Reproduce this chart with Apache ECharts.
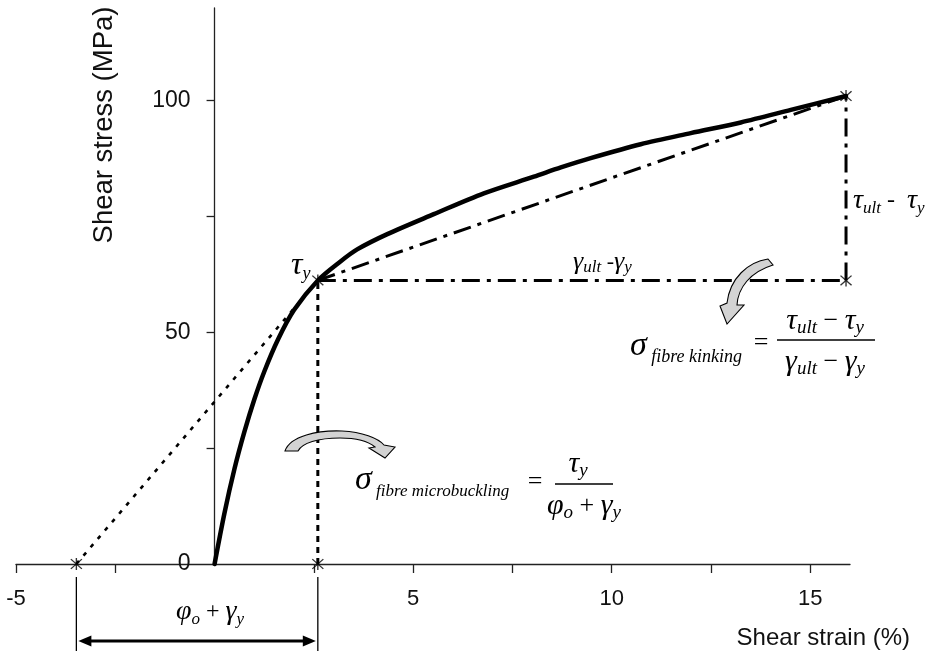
<!DOCTYPE html>
<html>
<head>
<meta charset="utf-8">
<script src="https://cdn.jsdelivr.net/npm/echarts@6/dist/echarts.min.js"></script>
<style>
  html, body { margin: 0; padding: 0; background: #fff; }
  #chart { width: 930px; height: 651px; }
</style>
</head>
<body>
<div id="chart"></div>
<script>
// measured shear stress-strain curve
const strain = [0, 0.25, 0.5, 0.75, 1.0, 1.25, 1.6, 2.0, 2.6, 3.17, 3.59, 4.35, 5.52, 6.78, 8.04, 8.72, 9.47, 10.73, 11.99, 13.25, 14.51, 15.9];
const stress = [0, 11, 20.5, 28.5, 35.5, 41.5, 48.5, 54.8, 61.2, 65.3, 67.9, 71.2, 75.5, 80.0, 83.6, 85.6, 87.6, 90.6, 93.0, 95.3, 98.0, 101.0];

// construction points
const yieldStrain = 2.6;
const yieldStress = 61.2;
const ultStrain = 15.9;
const ultStress = 101.0;
const offsetStrain = -3.48; // phi_o intercept on the strain axis

const xMin = -5;
const xMax = 16;
const xTicks = [-5, -2.5, 2.5, 5, 7.5, 10, 12.5, 15];
const xLabels = [-5, 5, 10, 15];
const yTicks = [25, 50, 75, 100];
const yLabels = [0, 50, 100];

const SERIF = '"Liberation Serif", "DejaVu Serif", serif';
const SANS = '"Liberation Sans", Arial, sans-serif';

const GRID = { left: 16, right: 80, top: 8, bottom: 87 };
const WIDTH = 930;

const curveData = strain.map((x, i) => [x, stress[i]]);
const markers = [
    [offsetStrain, 0],
    [yieldStrain, 0],
    [yieldStrain, yieldStress],
    [ultStrain, yieldStress],
    [ultStrain, ultStress],
];

const ASTERISK = 'path://M9,0 L11,0 L11,20 L9,20 Z M2.7,1.3 L18.7,17.3 L17.3,18.7 L1.3,2.7 Z M18.7,2.7 L2.7,18.7 L1.3,17.3 L17.3,1.3 Z';

// curved hint arrows (pixel outlines)
const ARROW_MICRO = 'M 285 451 C 290 436, 318 430, 342 431 C 362 432, 378 438, 384 445 L 395 447 L 385 458 L 369 448 L 375 447 C 368 441, 356 438, 340 438 C 318 438, 302 443, 298 451 Z';
const ARROW_KINK = 'M 768 259 C 748 262, 730 278, 727 303 L 720 306 L 727 324 L 744 305 L 737 305 C 738 288, 750 272, 773 265 Z';

function mathRich(big, small, drop) {
    const lh = 2 * drop + small + 0.6 * (big - small);
    return {
        g: { fontFamily: SERIF, fontStyle: 'italic', fontSize: big, lineHeight: lh, fill: '#000' },
        s: { fontFamily: SERIF, fontStyle: 'italic', fontSize: small, lineHeight: small, verticalAlign: 'bottom', fill: '#000' },
        n: { fontFamily: SERIF, fontSize: Math.round(big * 0.85), lineHeight: lh, fill: '#000' },
    };
}

function mathText(x, y, text, rich, align) {
    return {
        type: 'text',
        x,
        y,
        silent: true,
        style: {
            text,
            rich,
            align: align || 'left',
            verticalAlign: 'middle',
            fill: '#000',
            fontFamily: SERIF,
            fontSize: 24,
        },
    };
}

function plainText(x, y, text, align, size, rotation) {
    return {
        type: 'text',
        x,
        y,
        rotation: rotation || 0,
        silent: true,
        style: {
            text,
            fill: '#111',
            fontFamily: SANS,
            fontSize: size,
            align,
            verticalAlign: 'middle',
        },
    };
}

function fracLine(x1, x2, y) {
    return {
        type: 'line',
        silent: true,
        shape: { x1, y1: y, x2, y2: y },
        style: { stroke: '#000', lineWidth: 1.3 },
    };
}

function lineSeries(data, dash, width) {
    return {
        type: 'line',
        data,
        symbol: 'none',
        clip: false,
        silent: true,
        lineStyle: { color: '#000', width, type: dash, cap: 'butt' },
        z: 3,
    };
}

const chart = echarts.init(document.getElementById('chart'));

const richTau = mathRich(32, 18, 4);
const richLabel = mathRich(28, 17, 4);
const richGamma = mathRich(26, 17, 3);
const richFrac = mathRich(30, 19, 4);
const richSigma = mathRich(34, 18, 6);
const richSigmaLong = mathRich(34, 17, 6);

// y axis sits on strain = 0
const gridWidth = WIDTH - GRID.left - GRID.right;
const yAxisOffset = -((0 - xMin) / (xMax - xMin)) * gridWidth;

chart.setOption({
    animation: false,
    backgroundColor: '#fff',
    grid: Object.assign({ containLabel: false, outerBoundsMode: 'none' }, GRID),
    xAxis: {
        type: 'value',
        min: xMin,
        max: xMax,
        interval: 2.5,
        splitLine: { show: false },
        axisLine: { onZero: true, lineStyle: { color: '#222', width: 1.3 } },
        axisTick: { customValues: xTicks, length: 9, lineStyle: { color: '#222', width: 1.3 } },
        axisLabel: {
            customValues: xLabels,
            margin: 24,
            color: '#111',
            fontFamily: SANS,
            fontSize: 22,
        },
    },
    yAxis: {
        type: 'value',
        position: 'left',
        offset: yAxisOffset,
        min: 0,
        max: 120,
        interval: 25,
        splitLine: { show: false },
        axisLine: { show: true, onZero: false, lineStyle: { color: '#222', width: 1.3 } },
        axisTick: { show: true, customValues: yTicks, length: 8, lineStyle: { color: '#222', width: 1.3 } },
        axisLabel: {
            customValues: yLabels,
            margin: 24,
            color: '#111',
            fontFamily: SANS,
            fontSize: 23,
        },
    },
    series: [
        // secant from the offset strain through the yield point
        lineSeries([[offsetStrain, 0], [yieldStrain, yieldStress]], [4, 7], 2.6),
        // drop line from the yield point
        lineSeries([[yieldStrain, 0], [yieldStrain, yieldStress]], [6, 5], 3),
        // kinking construction
        lineSeries([[yieldStrain, yieldStress], [ultStrain, ultStress]], [18, 7, 4, 7], 3),
        lineSeries([[yieldStrain, yieldStress], [ultStrain, yieldStress]], [18, 7, 4, 7], 3),
        lineSeries([[ultStrain, yieldStress], [ultStrain, ultStress]], [18, 7, 4, 7], 3),
        {
            type: 'line',
            data: curveData,
            symbol: 'none',
            smooth: 0.3,
            clip: false,
            silent: true,
            lineStyle: { color: '#000', width: 4.5, cap: 'round', join: 'round' },
            z: 4,
        },
        {
            type: 'scatter',
            data: markers,
            symbol: ASTERISK,
            symbolSize: 12,
            clip: false,
            silent: true,
            itemStyle: { color: '#000' },
            z: 5,
        },
        {
            // dimension arrow for phi_o + gamma_y below the axis
            type: 'custom',
            data: [[offsetStrain, yieldStrain]],
            clip: false,
            silent: true,
            z: 5,
            renderItem: (params, api) => {
                const a = api.coord([api.value(0), 0]);
                const b = api.coord([api.value(1), 0]);
                const top = a[1] + 13;
                const bottom = a[1] + 90;
                const ay = a[1] + 77;
                const head = 13;
                const half = 5.5;
                return {
                    type: 'group',
                    children: [
                        { type: 'line', shape: { x1: a[0], y1: top, x2: a[0], y2: bottom }, style: { stroke: '#000', lineWidth: 1.3 } },
                        { type: 'line', shape: { x1: b[0], y1: top, x2: b[0], y2: bottom }, style: { stroke: '#000', lineWidth: 1.3 } },
                        { type: 'line', shape: { x1: a[0] + head, y1: ay, x2: b[0] - head, y2: ay }, style: { stroke: '#000', lineWidth: 3 } },
                        { type: 'polygon', shape: { points: [[a[0] + 2, ay], [a[0] + 2 + head, ay - half], [a[0] + 2 + head, ay + half]] }, style: { fill: '#000' } },
                        { type: 'polygon', shape: { points: [[b[0] - 2, ay], [b[0] - 2 - head, ay - half], [b[0] - 2 - head, ay + half]] }, style: { fill: '#000' } },
                    ],
                };
            },
        },
        {
            // grey curved pointer arrows
            type: 'custom',
            data: [[0, 0]],
            clip: false,
            silent: true,
            z: 6,
            renderItem: () => ({
                type: 'group',
                children: [ARROW_MICRO, ARROW_KINK].map((d) => ({
                    type: 'path',
                    shape: { pathData: d },
                    style: { fill: '#d3d3d3', stroke: '#000', lineWidth: 1.1 },
                })),
            }),
        },
    ],
    graphic: [
        plainText(104, 125, 'Shear stress (MPa)', 'center', 27.5, Math.PI / 2),
        plainText(910, 638, 'Shear strain (%)', 'right', 24),

        mathText(291, 266, '{g|τ}{s|y}', richTau),
        mathText(573, 262, '{g|γ}{s|ult}{n| -}{g|γ}{s|y}', richGamma),
        mathText(853, 201, '{g|τ}{s|ult}{n| -  }{g|τ}{s|y}', richLabel),
        mathText(210, 612, '{g|φ}{s|o}{n| + }{g|γ}{s|y}', richLabel, 'center'),

        // kinking stress formula
        mathText(630, 346, '{g|σ}{s| fibre kinking}', richSigma),
        mathText(761, 343, '{n|=}', richFrac, 'center'),
        mathText(825, 321, '{g|τ}{s|ult}{n| − }{g|τ}{s|y}', richFrac, 'center'),
        fracLine(777, 875, 340),
        mathText(825, 362, '{g|γ}{s|ult}{n| − }{g|γ}{s|y}', richFrac, 'center'),

        // microbuckling stress formula
        mathText(355, 480, '{g|σ}{s| fibre microbuckling}', richSigmaLong),
        mathText(535, 482, '{n|=}', richFrac, 'center'),
        mathText(578, 464, '{g|τ}{s|y}', richFrac, 'center'),
        fracLine(555, 613, 484),
        mathText(584, 506, '{g|φ}{s|o}{n| + }{g|γ}{s|y}', richFrac, 'center'),
    ],
});
</script>
</body>
</html>
